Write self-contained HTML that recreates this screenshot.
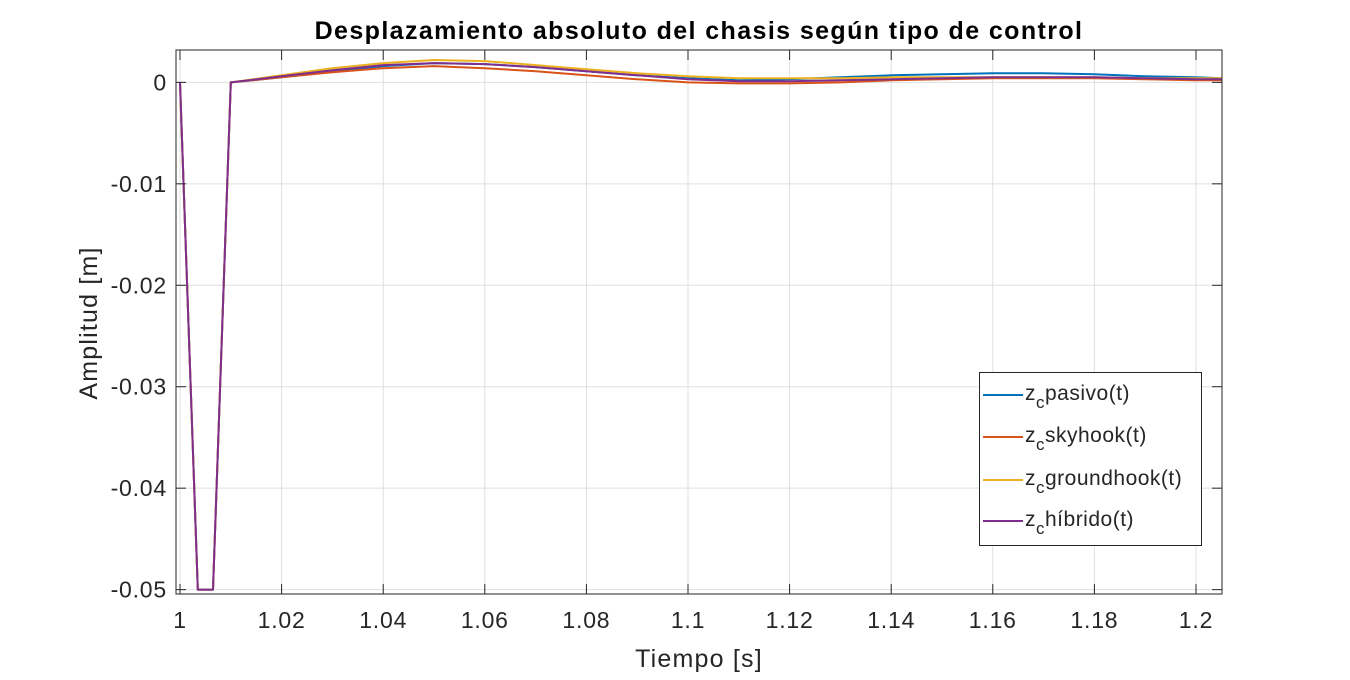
<!DOCTYPE html>
<html><head><meta charset="utf-8"><style>
body{margin:0;background:#fff;}
svg text{font-family:"Liberation Sans",Arial,sans-serif;fill:#262626;}
</style></head><body>
<svg id="chart" width="1350" height="675">
<rect width="1350" height="675" fill="#fff"/>
<text x="699" y="39" text-anchor="middle" font-size="25" font-weight="bold" letter-spacing="1.4" style="fill:#000">Desplazamiento absoluto del chasis según tipo de control</text>
<g id="grid"></g>
<g id="series"></g>
<g id="axes"></g>
<text x="699" y="667" text-anchor="middle" font-size="25" letter-spacing="1.2">Tiempo [s]</text>
<text transform="translate(97,323) rotate(-90)" text-anchor="middle" font-size="25" letter-spacing="1.2">Amplitud [m]</text>
<g>
<rect x="979.5" y="372.5" width="222" height="173" fill="#fff" stroke="#262626" stroke-width="1"/>
<g><line x1="983" y1="395" x2="1023" y2="395" stroke="#0072BD" stroke-width="2"/><text x="1025" y="400" font-size="21" letter-spacing="0.5">z<tspan font-size="17" dy="8">c</tspan><tspan dy="-8">pasivo(t)</tspan></text></g>
<g><line x1="983" y1="437" x2="1023" y2="437" stroke="#D95319" stroke-width="2"/><text x="1025" y="442" font-size="21" letter-spacing="0.5">z<tspan font-size="17" dy="8">c</tspan><tspan dy="-8">skyhook(t)</tspan></text></g>
<g><line x1="983" y1="480" x2="1023" y2="480" stroke="#EDB120" stroke-width="2"/><text x="1025" y="485" font-size="21" letter-spacing="0.5">z<tspan font-size="17" dy="8">c</tspan><tspan dy="-8">groundhook(t)</tspan></text></g>
<g><line x1="983" y1="521" x2="1023" y2="521" stroke="#7E2F8E" stroke-width="2"/><text x="1025" y="526" font-size="21" letter-spacing="0.5">z<tspan font-size="17" dy="8">c</tspan><tspan dy="-8">híbrido(t)</tspan></text></g>
</g>
</svg>
<script>
const t = [1,1.0035,1.0065,1.01,1.02,1.03,1.04,1.05,1.06,1.07,1.08,1.09,1.10,1.11,1.12,1.13,1.14,1.15,1.16,1.17,1.18,1.19,1.20,1.205];
const pasivo = [0,-0.05,-0.05,0,0.0005,0.0011,0.0016,0.0019,0.0018,0.0015,0.0011,0.0007,0.0004,0.0002,0.0003,0.0005,0.0007,0.0008,0.0009,0.0009,0.0008,0.0006,0.0005,0.0004];
const skyhook = [0,-0.05,-0.05,0,0.0005,0.0010,0.0014,0.0016,0.0014,0.0011,0.0007,0.0003,0.0000,-0.0001,-0.0001,0.0000,0.0002,0.0003,0.0004,0.0004,0.0004,0.0003,0.0002,0.0002];
const groundhook = [0,-0.05,-0.05,0,0.0007,0.0014,0.0019,0.0022,0.0021,0.0017,0.0013,0.0009,0.0006,0.0004,0.0004,0.0004,0.0005,0.0005,0.0005,0.0005,0.0005,0.0004,0.0004,0.0004];
const hibrido = [0,-0.05,-0.05,0,0.0006,0.0012,0.0017,0.0019,0.0018,0.0015,0.0011,0.0007,0.0003,0.0001,0.0001,0.0002,0.0003,0.0004,0.0005,0.0005,0.0005,0.0004,0.0003,0.0003];
const xTicks = [1,1.02,1.04,1.06,1.08,1.1,1.12,1.14,1.16,1.18,1.2];
const xTickLabels = ["1","1.02","1.04","1.06","1.08","1.1","1.12","1.14","1.16","1.18","1.2"];
const yTicks = [0,-0.01,-0.02,-0.03,-0.04,-0.05];
const yTickLabels = ["0","-0.01","-0.02","-0.03","-0.04","-0.05"];

const L=176,R=1222,T=50,B=594;
const xMin=0.99921,xMax=1.20512,yMin=-0.05043,yMax=0.00319;
const X=v=>L+(v-xMin)/(xMax-xMin)*(R-L);
const Y=v=>B-(v-yMin)/(yMax-yMin)*(B-T);
const NS='http://www.w3.org/2000/svg';
function mk(tag,attrs,parent){const e=document.createElementNS(NS,tag);for(const k in attrs)e.setAttribute(k,attrs[k]);parent.appendChild(e);return e;}
const grid=document.getElementById('grid'),axes=document.getElementById('axes'),ser=document.getElementById('series');
xTicks.forEach((v,i)=>{
  const g=mk('line',{x1:X(v),x2:X(v),y1:T,y2:B,stroke:'#dfdfdf','stroke-width':1},grid);
  
  
  const a=mk('line',{x1:X(v),x2:X(v),y1:B,y2:B-10,stroke:'#262626','stroke-width':1},axes);
  
  
  const b=mk('line',{x1:X(v),x2:X(v),y1:T,y2:T+10,stroke:'#262626','stroke-width':1},axes);
  
  
  const tx=mk('text',{x:X(v),y:B+34,'text-anchor':'middle','font-size':23,'letter-spacing':0.8},axes);
  tx.textContent=xTickLabels[i];
  
  
});
yTicks.forEach((v,i)=>{
  const g=mk('line',{x1:L,x2:R,y1:Y(v),y2:Y(v),stroke:'#dfdfdf','stroke-width':1},grid);
  
  
  const a=mk('line',{x1:L,x2:L+10,y1:Y(v),y2:Y(v),stroke:'#262626','stroke-width':1},axes);
  
  
  const b=mk('line',{x1:R,x2:R-10,y1:Y(v),y2:Y(v),stroke:'#262626','stroke-width':1},axes);
  
  
  const tx=mk('text',{x:L-9,y:Y(v)+8,'text-anchor':'end','font-size':23,'letter-spacing':0.8},axes);
  tx.textContent=yTickLabels[i];
  
  
});
const box=mk('rect',{x:L,y:T,width:R-L,height:B-T,fill:'none',stroke:'#262626','stroke-width':1},axes);


const seriesList=[[pasivo,'#0072BD','line-pasivo'],[skyhook,'#D95319','line-skyhook'],[groundhook,'#EDB120','line-groundhook'],[hibrido,'#7E2F8E','line-hibrido']];
seriesList.forEach(s=>{
  const p=mk('polyline',{points:t.map((v,i)=>X(v).toFixed(1)+','+Y(s[0][i]).toFixed(1)).join(' '),fill:'none',stroke:s[1],'stroke-width':2,'stroke-linejoin':'round'},ser);
  
  
});
</script>
</body></html>
